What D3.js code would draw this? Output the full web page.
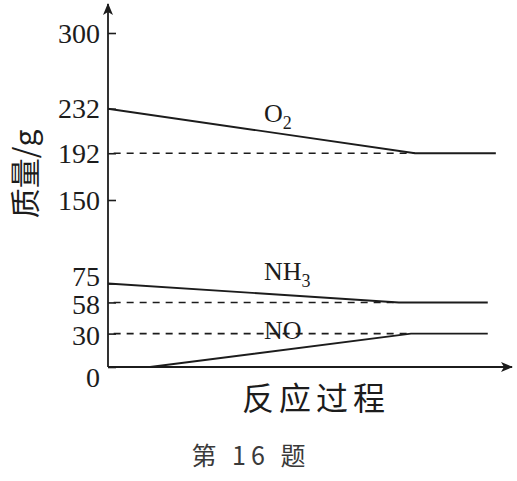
<!DOCTYPE html>
<html><head><meta charset="utf-8">
<script src="https://cdn.jsdelivr.net/npm/d3@7"></script>
<style>body{margin:0;background:#fff}svg{display:block}</style>
</head><body>
<svg id="c" width="517" height="481"></svg>
<script>
// ---- data ----
const yTickValues = [0, 30, 58, 75, 150, 192, 232, 300];
const o2Progress = [0, 76, 96];
const o2Mass = [232, 192, 192];
const nh3Progress = [0, 72, 94];
const nh3Mass = [75, 58, 58];
const noProgress = [10.4, 75, 94];
const noMass = [0, 30, 30];
const dashLevels = [192, 58, 30];
const dashEnds = [76, 72, 75];
const yTitle = "质量/g";
const xTitle = "反应过程";
const caption = "第 16 题";

// ---- layout ----
const svg = d3.select("#c");
const ink = "#1c1c1c";
const x = d3.scaleLinear().domain([0, 100]).range([108, 512]);
const y = d3.scaleLinear().domain([0, 300]).range([367, 33]);
const serif = "'Liberation Serif','Times New Roman',serif";
const cjk = "'Noto Sans CJK SC',sans-serif";

// y axis with inward ticks
const yAxis = d3.axisLeft(y).tickValues(yTickValues).tickSize(-8).tickPadding(8);
const gy = svg.append("g").attr("transform", `translate(${x(0)},0)`).call(yAxis);
gy.select(".domain").remove();
gy.selectAll(".tick line").attr("stroke", ink).attr("stroke-width", 1.6);
const dyFor = {0: "0.7em", 30: "0.4em", 58: "0.4em", 75: "0.08em"};
gy.selectAll(".tick text")
  .attr("fill", ink)
  .style("font-family", serif)
  .style("font-size", "28px")
  .attr("dy", d => dyFor[d] || "0.33em");

// axis lines with arrows
svg.append("defs").append("marker")
  .attr("id", "arr").attr("viewBox", "0 0 12 10").attr("refX", 11).attr("refY", 5)
  .attr("markerWidth", 12).attr("markerHeight", 10).attr("markerUnits", "userSpaceOnUse")
  .attr("orient", "auto")
  .append("path").attr("d", "M0,0 L12,5 L0,10 L3,5 Z").attr("fill", ink);

svg.append("line").attr("x1", x(0)).attr("y1", y(0)).attr("x2", x(0)).attr("y2", 4)
  .attr("stroke", ink).attr("stroke-width", 1.8).attr("marker-end", "url(#arr)");
svg.append("line").attr("x1", x(0)).attr("y1", y(0)).attr("x2", x(100)).attr("y2", y(0))
  .attr("stroke", ink).attr("stroke-width", 1.8).attr("marker-end", "url(#arr)");

// dashed reference lines
dashLevels.forEach((v, i) => {
  svg.append("line")
    .attr("x1", x(1.4)).attr("x2", x(dashEnds[i]))
    .attr("y1", y(v)).attr("y2", y(v))
    .attr("stroke", ink).attr("stroke-width", 1.6).attr("stroke-dasharray", "7,6");
});

// series lines
const line = d3.line().x(d => x(d[0])).y(d => y(d[1]));
[[o2Progress, o2Mass], [nh3Progress, nh3Mass], [noProgress, noMass]].forEach(([px, m]) => {
  svg.append("path").datum(px.map((p, i) => [p, m[i]]))
    .attr("d", line).attr("fill", "none").attr("stroke", ink).attr("stroke-width", 1.9);
});

// series labels
function chem(xp, yp, main, sub) {
  const t = svg.append("text").attr("x", xp).attr("y", yp)
    .attr("fill", ink).style("font-family", serif).style("font-size", "26px");
  t.append("tspan").text(main);
  if (sub) t.append("tspan").attr("dy", 7).style("font-size", "18px").text(sub);
}
chem(264, 122, "O", "2");
chem(264, 280, "NH", "3");
chem(264, 339, "NO", null);

// titles
svg.append("text")
  .attr("transform", `translate(36,174) rotate(-90)`)
  .attr("text-anchor", "middle").attr("fill", ink)
  .style("font-family", cjk).style("font-size", "30px")
  .text(yTitle);
svg.append("text").attr("x", 316).attr("y", 410).attr("text-anchor", "middle")
  .attr("fill", ink)
  .style("font-family", cjk).style("font-size", "32px")
  .style("letter-spacing", "5px")
  .text(xTitle);
svg.append("text").attr("x", 251).attr("y", 465).attr("text-anchor", "middle")
  .attr("fill", "#3a3a3a")
  .style("font-family", cjk).style("font-size", "25px")
  .style("letter-spacing", "5px")
  .text(caption);
</script>
</body></html>
